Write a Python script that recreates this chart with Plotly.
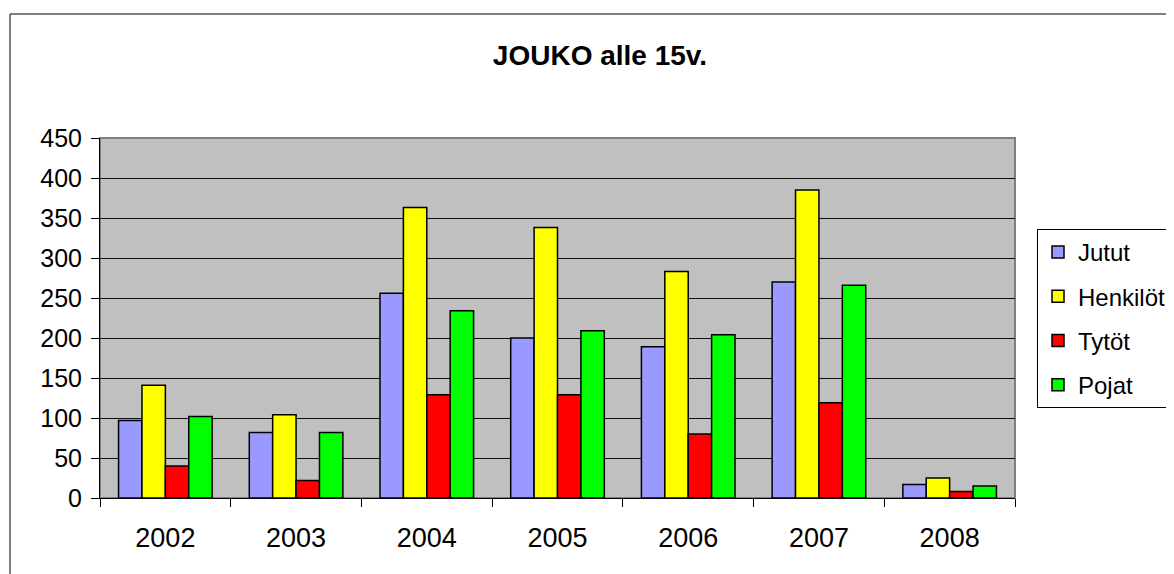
import plotly.graph_objects as go

years = ["2002", "2003", "2004", "2005", "2006", "2007", "2008"]
jutut = [97, 82, 256, 200, 189, 270, 17]
henkilot = [141, 104, 363, 338, 283, 385, 25]
tytot = [40, 22, 129, 129, 80, 119, 8]
pojat = [102, 82, 234, 209, 204, 266, 15]

series = [
    ("Jutut", jutut, "#9999FF"),
    ("Henkilöt", henkilot, "#FFFF00"),
    ("Tytöt", tytot, "#FF0000"),
    ("Pojat", pojat, "#00FF00"),
]

fig = go.Figure()
for name, vals, col in series:
    fig.add_trace(go.Bar(
        x=years, y=vals, name=name, legendgroup=name,
        marker=dict(color=col, line=dict(color="black", width=1.5)),
    ))

# page has an 8px body margin; figure coordinates are page minus 8
W, H = 1166, 566
ml, mr, mt, mb = 92, 159, 130, 76
pw = W - ml - mr
ph = H - mt - mb
FONT = "Liberation Sans, Arial, sans-serif"

fig.update_layout(
    width=W, height=H,
    margin=dict(l=ml, r=mr, t=mt, b=mb, autoexpand=False),
    paper_bgcolor="white",
    plot_bgcolor="#C0C0C0",
    font=dict(family=FONT, size=24, color="black"),
    title=dict(text="<b>JOUKO alle 15v.</b>", x=592 / W, xanchor="center",
               y=1 - 47 / H, yanchor="middle",
               font=dict(size=28, family=FONT)),
    barmode="group",
    bargap=0.284,
    bargroupgap=0,
    showlegend=True,
    legend=dict(
        x=(1029 - ml) / pw, xanchor="left",
        y=(H - mb - 221) / ph, yanchor="top",
        bordercolor="black", borderwidth=1,
        font=dict(size=24, family=FONT),
        traceorder="grouped",
        tracegroupgap=10,
        bgcolor="white",
    ),
    xaxis=dict(
        type="category",
        showline=True, linecolor="black", linewidth=1,
        ticks="outside", tickson="boundaries", ticklen=8, tickcolor="black",
        showgrid=False,
        tickfont=dict(size=27, family=FONT),
        ticklabelstandoff=16,
    ),
    yaxis=dict(
        range=[0, 450], dtick=50,
        showline=True, linecolor="black", linewidth=1,
        ticks="outside", ticklen=8, tickcolor="black",
        showgrid=True, gridcolor="#111111", gridwidth=1,
        zeroline=False,
        tickfont=dict(size=25, family=FONT),
        ticklabelstandoff=4,
    ),
    shapes=[
        dict(type="rect", xref="paper", yref="paper",
             x0=0, x1=1, y0=0, y1=1,
             line=dict(color="#808080", width=2), layer="below"),
        dict(type="rect", xref="paper", yref="paper",
             x0=(2 - ml) / pw, x1=(W + 20 - ml) / pw,
             y0=-(mb + 20) / ph, y1=(H - mb - 6) / ph,
             line=dict(color="black", width=1), layer="below"),
    ],
)

fig.write_html("out.html")
